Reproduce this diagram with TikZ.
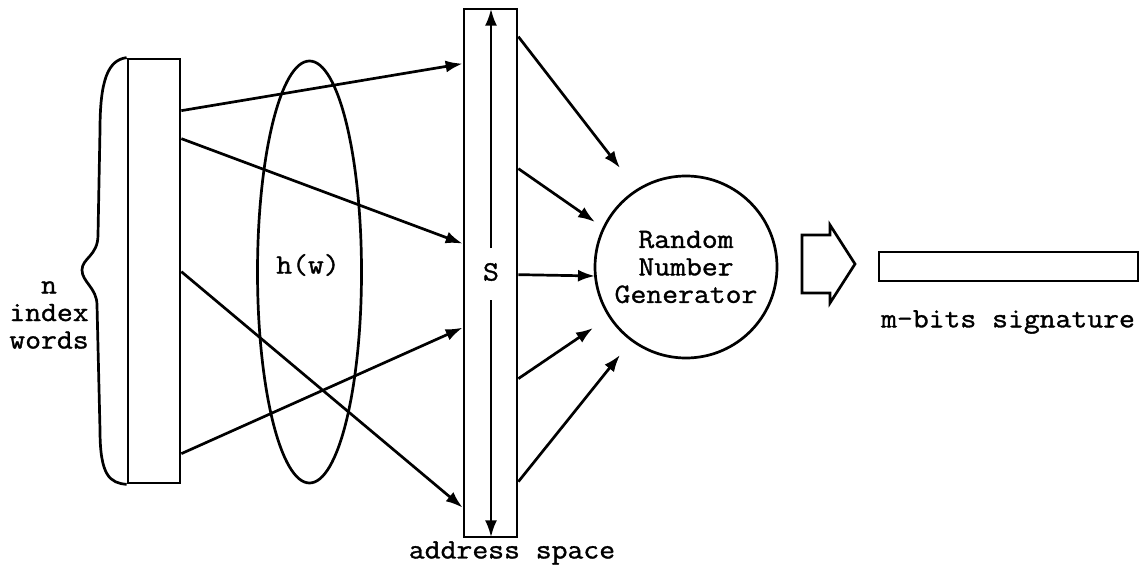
\documentclass[tikz,border=0pt]{standalone}
\usepackage{fontspec}
\setmonofont[FakeStretch=1.1, FakeBold=1.2]{Latin Modern Mono}
\usetikzlibrary{arrows.meta,calc,shapes.geometric}
\begin{document}
\begin{tikzpicture}[x=1pt,y=-1pt, line width=2.7pt,
  lbl/.style={font=\ttfamily\fontsize{28}{27.5}\selectfont, inner sep=0pt, align=center},
  arr/.style={-{Latex[length=17pt,width=12pt]}},
  box/.style={draw, rectangle, inner sep=0pt}]
\useasboundingbox (0,0) rectangle (1147,569);

% left box with brace
\node[box, minimum width=52pt, minimum height=424pt] (L) at (154,271) {};
\draw (L.north west) .. controls (108,60) and (100,80) .. (100,130)
  -- (98,235) .. controls (98,256) and (82,258) .. (82,270)
  .. controls (82,282) and (97,288) .. (97,305)
  -- (100,430) .. controls (100,476) and (110,483) .. (L.south west);
\node[lbl] (nlab) at (49,315) {n\\index\\words};

% ellipse h(w)
\node[draw, ellipse, minimum width=104pt, minimum height=422pt, inner sep=0pt] (H) at (309.5,272) {};
\node[lbl] (hlab) at (308,265) {h(w)};

% address space box
\node[box, minimum width=53pt, minimum height=528pt] (S) at (490.5,273) {};
\node[lbl] (slab) at (491,272) {S};
\draw[arr, shorten >=1pt] ($(slab)+(0,-24)$) -- (slab |- S.north);
\draw[arr, shorten >=1pt] ($(slab)+(0,28)$) -- (slab |- S.south);
\node[lbl] (alab) at (512,553) {address space};

% random number generator
\node[draw, circle, minimum size=182pt, inner sep=0pt, lbl] (R) at (686,267) {Random\\Number\\Generator};

% arrows from left box to address space
\draw[arr] ($(L.north east)+(0,53)$) -- ($(S.north west)+(0,56)$);
\draw[arr] ($(L.north east)+(0,81)$) -- ($(S.north west)+(0,236)$);
\draw[arr] ($(L.north east)+(0,214)$) -- ($(S.north west)+(0,500)$);
\draw[arr] ($(L.north east)+(0,396)$) -- ($(S.north west)+(0,320)$);

% arrows from address space to generator
\draw[arr] ($(S.north east)+(0,29)$) -- ($(R.center)+(-66,-99)$);
\draw[arr] ($(S.north east)+(0,161)$) -- ($(R.center)+(-91,-45)$);
\draw[arr] ($(S.north east)+(0,267)$) -- ($(R.center)+(-91,9)$);
\draw[arr] ($(S.north east)+(0,371)$) -- ($(R.center)+(-93,61)$);
\draw[arr] ($(S.north east)+(0,474)$) -- ($(R.center)+(-66,88)$);

% block arrow
\draw[line join=miter] (802,235) -- (830,235) -- (830,225) -- (855,264) -- (830,303) -- (830,293) -- (802,293) -- cycle;

% signature
\node[box, minimum width=259pt, minimum height=29pt] (M) at (1008.5,266.5) {};
\node[lbl] (mlab) at (1008,322) {m-bits signature};
\end{tikzpicture}
\end{document}
